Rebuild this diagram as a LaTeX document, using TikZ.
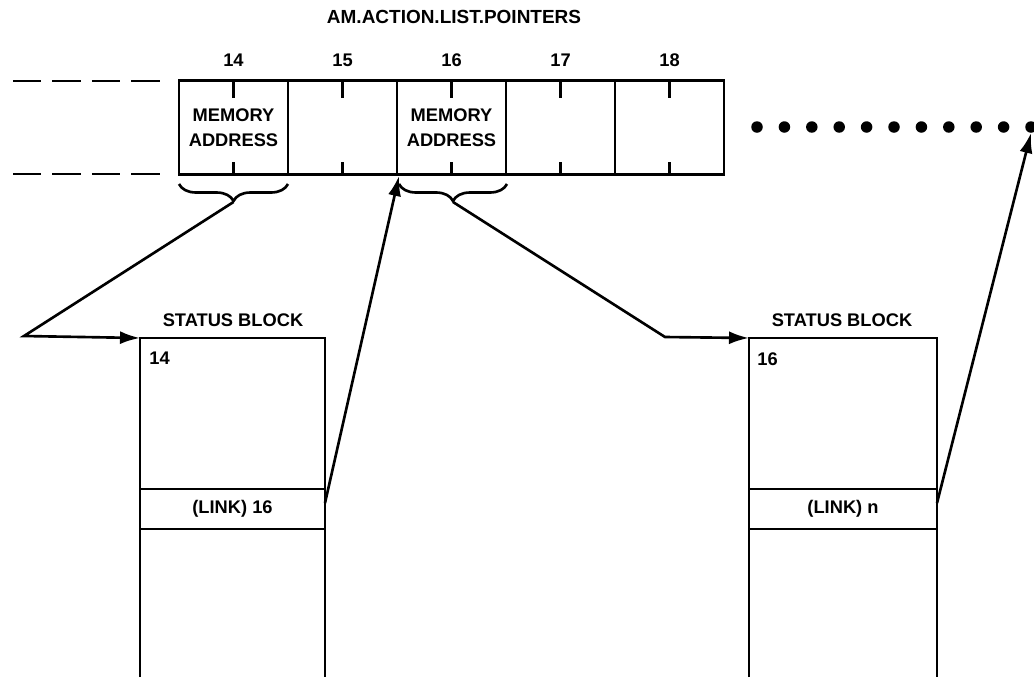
\documentclass[tikz,border=0pt]{standalone}
\usepackage{fontspec}
\setmainfont{Liberation Sans}
\usetikzlibrary{arrows.meta,decorations.pathreplacing}
\begin{document}
\begin{tikzpicture}[x=0.02cm,y=-0.02cm,
  every node/.style={font=\fontsize{10.4}{12}\selectfont\bfseries},
  line/.style={line width=1.5pt},
  cell/.style={line, draw, minimum width=2.18cm, minimum height=1.88cm, inner sep=0pt, align=center},
  linkbox/.style={line, draw, minimum width=3.7cm, minimum height=0.8cm, inner sep=0pt},
  lbl/.style={inner sep=0pt},
  arr/.style={line, -{Latex[length=0.4cm,width=0.26cm]}},
  brc/.style={line, decorate, decoration={brace, mirror, amplitude=0.34cm, aspect=0.5}},
  dashl/.style={line, dash pattern=on 0.57cm off 0.22cm},
  dot/.style={circle, fill, inner sep=0pt, minimum size=0.23cm}
]
\useasboundingbox (0,0) rectangle (1034,677);

% title
\node[lbl, font=\fontsize{10.8}{12}\selectfont\bfseries] (title) at (454,17) {AM.ACTION.LIST.POINTERS};

% array cells
\node[cell] (c14) at (233.5,127.5) {MEMORY\\[2pt]ADDRESS};
\node[cell] (c15) at (342.5,127.5) {};
\node[cell] (c16) at (451.5,127.5) {MEMORY\\[2pt]ADDRESS};
\node[cell] (c17) at (560.5,127.5) {};
\node[cell] (c18) at (669.5,127.5) {};
\foreach \n in {14,15,16,17,18} {
  \node[lbl] (n\n) at ([yshift=0.37cm]c\n.north) {\n};
  \draw[line] (c\n.north) -- ++(0,19);
  \draw[line] (c\n.south) -- ++(0,-14);
}

% dashed lines left
\coordinate (dt1) at (13,81);
\coordinate (dt2) at (162,81);
\coordinate (db1) at (13,174);
\coordinate (db2) at (162,174);
\draw[dashl] (dt1) -- (dt2);
\draw[dashl] (db1) -- (db2);

% dots
\foreach \i in {0,...,9} {
  \node[dot] (d\i) at ({757+27.4*\i},127) {};
}
\node[dot] (dn) at (1031,127) {};

% braces
\draw[brc] (179,184) -- (288,184);
\draw[brc] (399,184) -- (507,184);
\coordinate (b14) at (233.5,202);
\coordinate (b16) at (453,202);

% status block 1
\node[lbl] (sbl1) at (233,320) {STATUS BLOCK};
\coordinate (s1tl) at (140,338);
\coordinate (s1tr) at (325,338);
\coordinate (s1bl) at (140,677);
\coordinate (s1br) at (325,677);
\draw[line] (s1bl) -- (s1tl) -- (s1tr) -- (s1br);
\node[lbl, anchor=north west] (s1n) at (149,352) {14};
\node[linkbox] (l1) at (232.5,509) {(LINK) 16};

% status block 2
\node[lbl] (sbl2) at (842,320) {STATUS BLOCK};
\coordinate (s2tl) at (749,338);
\coordinate (s2tr) at (937,338);
\coordinate (s2bl) at (749,677);
\coordinate (s2br) at (937,677);
\draw[line] (s2bl) -- (s2tl) -- (s2tr) -- (s2br);
\node[lbl, anchor=north west] (s2n) at (757,352) {16};
\node[linkbox, minimum width=3.76cm] (l2) at (843,509) {(LINK) n};

% connectors
\coordinate (k1) at (24,336);
\draw[arr] (b14) -- (k1) -- (s1tl);
\coordinate (k2) at (665,337);
\draw[arr] (b16) -- (k2) -- (s2tl);
\coordinate (l1o) at (325,503);
\coordinate (t16) at (399,176);
\draw[arr] (l1o) -- (t16);
\coordinate (l2o) at (937,503);
\draw[arr] (l2o) -- (dn.south);
\end{tikzpicture}
\end{document}
